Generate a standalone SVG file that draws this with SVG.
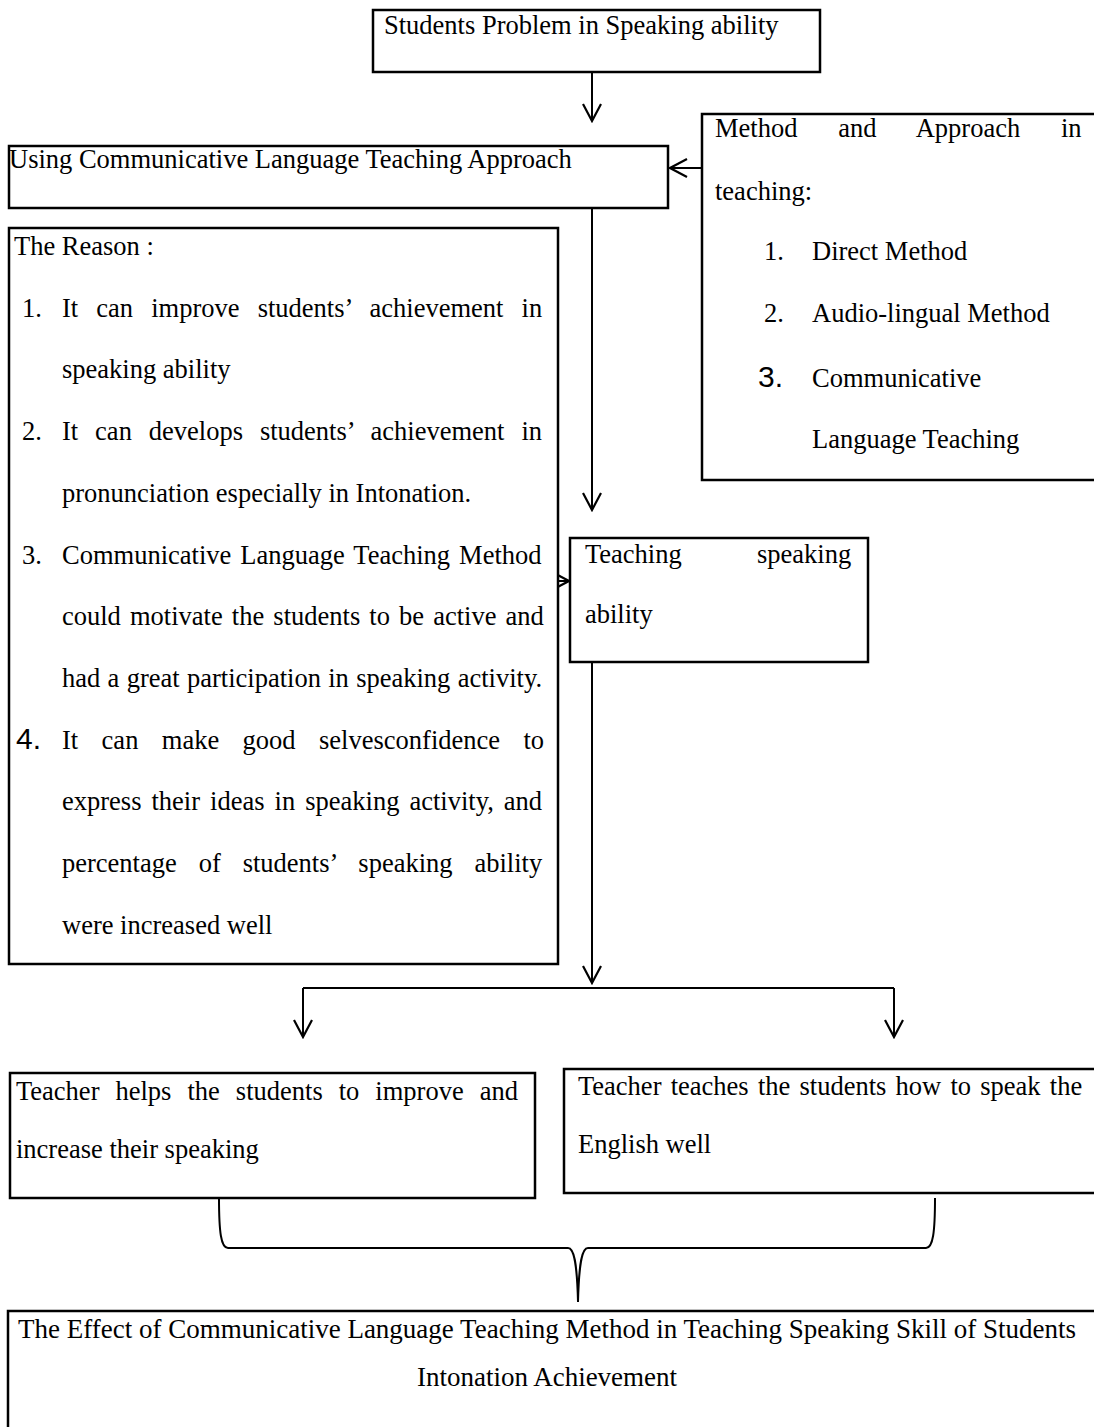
<svg xmlns="http://www.w3.org/2000/svg" width="1094" height="1427" viewBox="0 0 1094 1427">
<defs>
<style>
.b{fill:#fff;stroke:#000;stroke-width:2.5}
.t{font-family:"Liberation Serif","Times New Roman",serif;font-size:26.5px;fill:#000}
.n{font-family:"Liberation Sans",Arial,sans-serif;font-size:30px;fill:#000}
.c{fill:none;stroke:#000;stroke-width:2}
</style>
<marker id="arr" viewBox="0 0 20 20" refX="18" refY="10" markerWidth="20" markerHeight="20" markerUnits="userSpaceOnUse" orient="auto">
<path d="M1,1 L18,10 L1,19" fill="none" stroke="#000" stroke-width="2.2"/>
</marker>
</defs>
<rect width="1094" height="1427" fill="#fff"/>

<g id="connectors">
<line class="c" x1="592" y1="72" x2="592" y2="121" marker-end="url(#arr)"/>
<line class="c" x1="702" y1="168" x2="670" y2="168" marker-end="url(#arr)"/>
<line class="c" x1="592" y1="208" x2="592" y2="510" marker-end="url(#arr)"/>
<line class="c" x1="556" y1="581" x2="569" y2="581" marker-end="url(#arr)"/>
<line class="c" x1="592" y1="662" x2="592" y2="983" marker-end="url(#arr)"/>
<path class="c" d="M303,988 H894"/>
<line class="c" x1="303" y1="988" x2="303" y2="1037" marker-end="url(#arr)"/>
<line class="c" x1="894" y1="988" x2="894" y2="1037" marker-end="url(#arr)"/>
<path class="c" d="M219,1198 C219,1232 221,1248 228,1248 H568 C574,1248 577,1262 578,1302 C579,1262 582,1248 588,1248 H926 C933,1248 935,1232 935,1198"/>
</g>

<g id="node-problem">
<rect class="b" x="373" y="10" width="447" height="62"/>
<text class="t" x="384" y="34">Students Problem in Speaking ability</text>
</g>

<g id="node-clt">
<rect class="b" x="9" y="146" width="659" height="62"/>
<text class="t" x="9" y="168">Using Communicative Language Teaching Approach</text>
</g>

<g id="node-methods">
<rect class="b" x="702" y="114" width="400" height="366"/>
<text class="t" x="715" y="137" word-spacing="34.1">Method and Approach in</text>
<text class="t" x="715" y="200">teaching:</text>
<text class="t" x="764" y="260">1.</text>
<text class="t" x="812" y="260">Direct Method</text>
<text class="t" x="764" y="322">2.</text>
<text class="t" x="812" y="322">Audio-lingual Method</text>
<text class="n" x="758" y="387">3.</text>
<text class="t" x="812" y="387">Communicative</text>
<text class="t" x="812" y="448">Language Teaching</text>
</g>

<g id="node-reason">
<rect class="b" x="9" y="228" width="549" height="736"/>
<text class="t" x="14" y="255">The Reason :</text>
<text class="t" x="22" y="317">1.</text>
<text class="t" x="62" y="317" word-spacing="11.5">It can improve students’ achievement in</text>
<text class="t" x="62" y="378">speaking ability</text>
<text class="t" x="22" y="440">2.</text>
<text class="t" x="62" y="440" word-spacing="10.3">It can develops students’ achievement in</text>
<text class="t" x="62" y="502">pronunciation especially in Intonation.</text>
<text class="t" x="22" y="564">3.</text>
<text class="t" x="62" y="564" word-spacing="2.4">Communicative Language Teaching Method</text>
<text class="t" x="62" y="625" word-spacing="2.5">could motivate the students to be active and</text>
<text class="t" x="62" y="687" word-spacing="0.7">had a great participation in speaking activity.</text>
<text class="n" x="16" y="749">4.</text>
<text class="t" x="62" y="749" word-spacing="16.8">It can make good selvesconfidence to</text>
<text class="t" x="62" y="810" word-spacing="3.4">express their ideas in speaking activity, and</text>
<text class="t" x="62" y="872" word-spacing="15.3">percentage of students’ speaking ability</text>
<text class="t" x="62" y="934">were increased well</text>
</g>

<g id="node-teaching">
<rect class="b" x="570" y="538" width="298" height="124"/>
<text class="t" x="585" y="563" word-spacing="68.6">Teaching speaking</text>
<text class="t" x="585" y="623">ability</text>
</g>

<g id="node-helps">
<rect class="b" x="10" y="1073" width="525" height="125"/>
<text class="t" x="16" y="1100" word-spacing="9.4">Teacher helps the students to improve and</text>
<text class="t" x="16" y="1158">increase their speaking</text>
</g>

<g id="node-teaches">
<rect class="b" x="564" y="1069" width="540" height="124"/>
<text class="t" x="578" y="1095" word-spacing="2.6">Teacher teaches the students how to speak the</text>
<text class="t" x="578" y="1153">English well</text>
</g>

<g id="node-effect">
<rect class="b" x="8" y="1311" width="1100" height="140"/>
<text class="t" x="547" y="1338" text-anchor="middle" style="font-size:27px">The Effect of Communicative Language Teaching Method in Teaching Speaking Skill of Students</text>
<text class="t" x="547" y="1386" text-anchor="middle" style="font-size:27px">Intonation Achievement</text>
</g>
</svg>
